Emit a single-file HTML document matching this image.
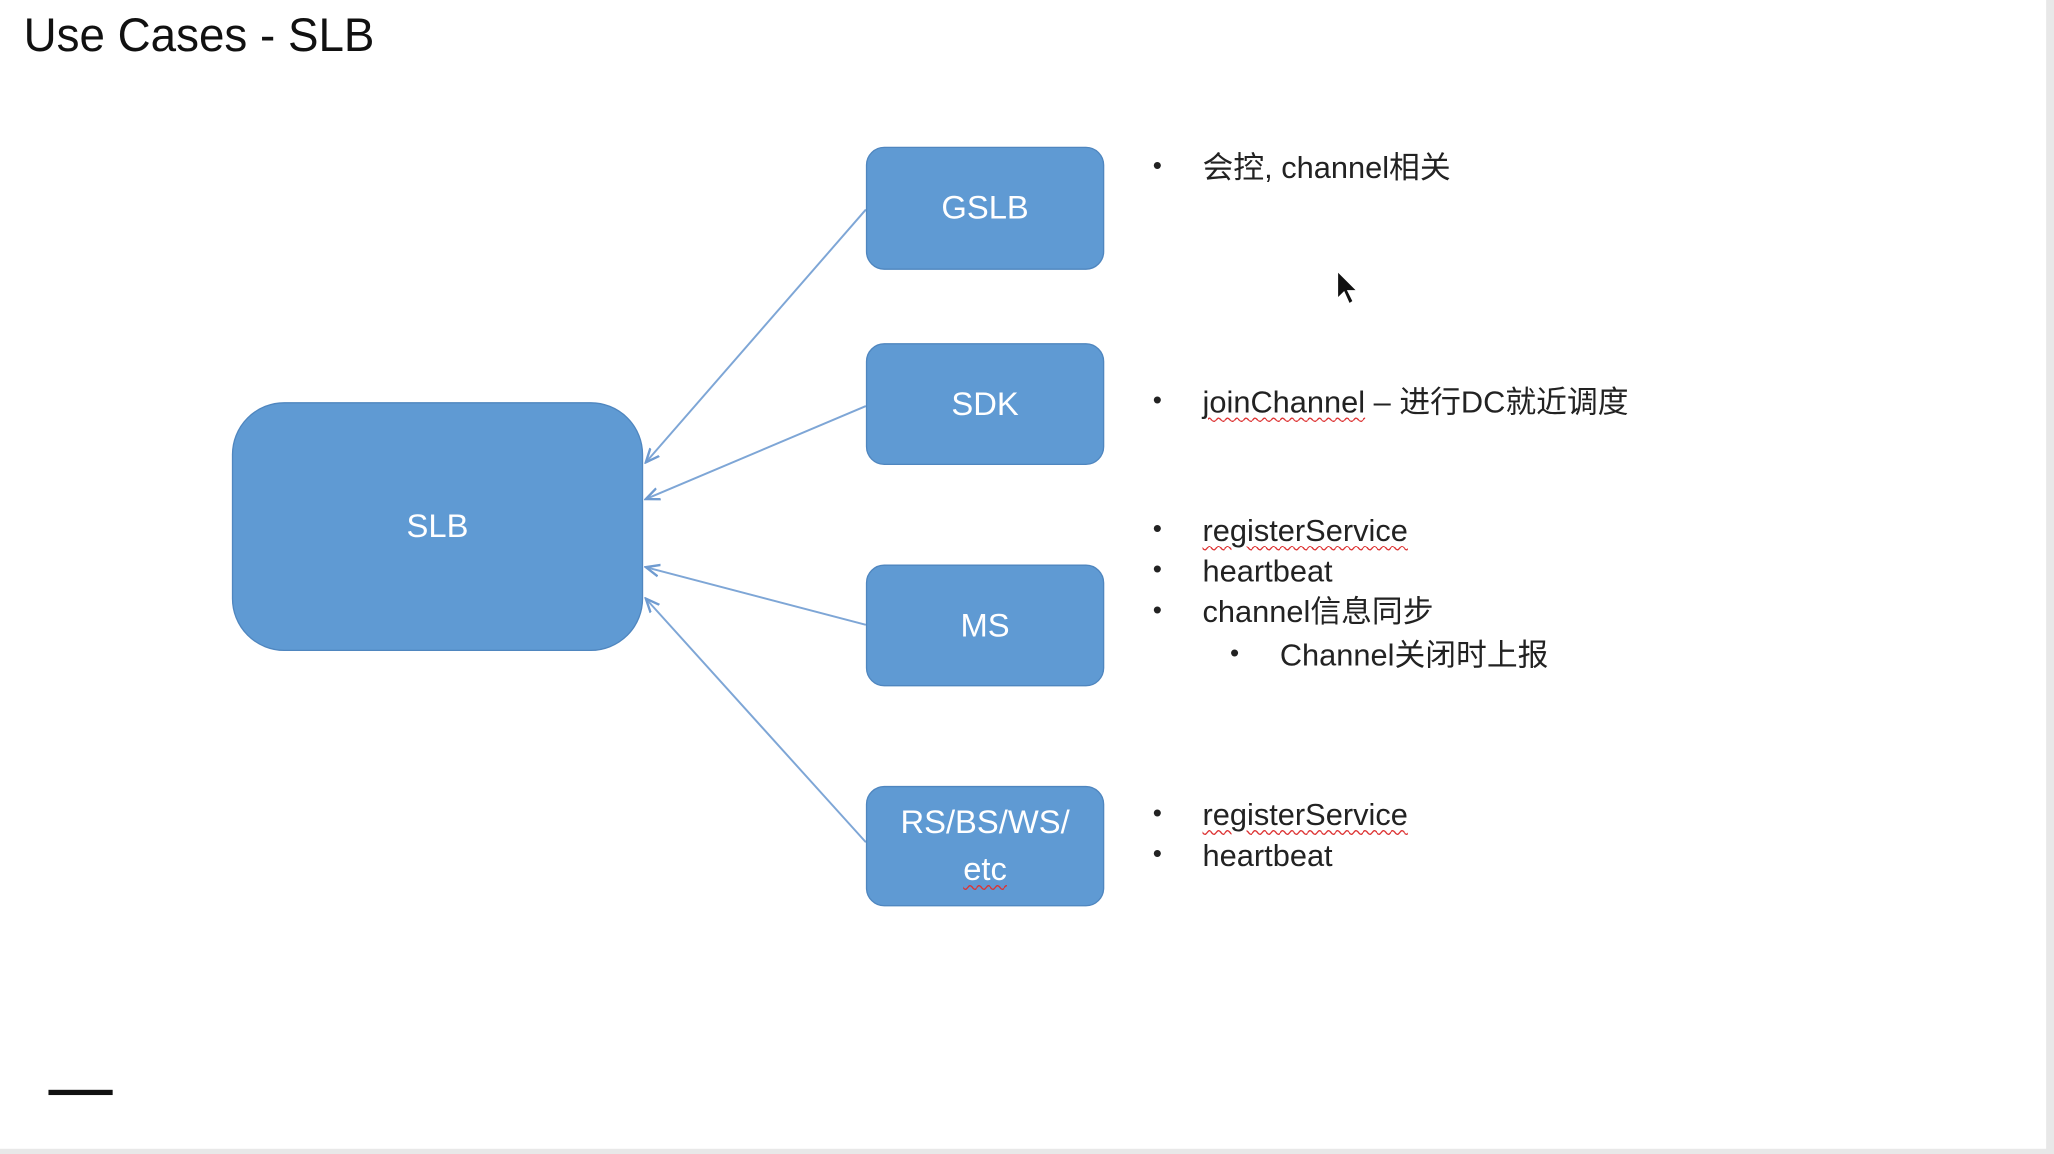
<!DOCTYPE html>
<html><head><meta charset="utf-8"><style>
html,body{margin:0;padding:0;background:#fff;width:2054px;height:1154px;overflow:hidden}
#s{position:absolute;left:0;top:0;width:1568px;height:881px;transform:scale(1.30995,1.30987);transform-origin:0 0;font-family:"Liberation Sans","Noto Sans CJK SC",sans-serif;color:#222}
.b{position:absolute;background:#5f9ad3;border:1.5px solid #4f86bf;box-sizing:border-box;color:#fff;display:flex;align-items:center;justify-content:center;text-align:center;font-size:25px;line-height:36px}
.t{position:absolute;font-size:23.5px;white-space:nowrap;line-height:30px}
.d{position:absolute;font-size:20px;line-height:30px}
u{text-decoration:underline wavy #d33;text-decoration-thickness:1px;text-underline-offset:3px}
</style></head><body><div id="s">
<div style="position:absolute;left:1562px;top:0;width:6px;height:881px;background:#e8e8e8"></div>
<div style="position:absolute;left:0;top:877px;width:1568px;height:4px;background:#e8e8e8"></div>
<div style="position:absolute;left:18px;top:6px;font-size:36px;color:#111;transform:scaleX(0.97);transform-origin:0 0">Use Cases - SLB</div>
<svg style="position:absolute;left:0;top:0" width="1568" height="881">
<defs><marker id="a" markerWidth="8" markerHeight="8" refX="7" refY="4" orient="auto"><path d="M0,1 L7,4 L0,7" fill="none" stroke="#6f9bd0" stroke-width="1.2"/></marker></defs>
<g stroke="#7ea6d6" stroke-width="1.5" fill="none" marker-end="url(#a)">
<line x1="661" y1="160" x2="493" y2="353"/>
<line x1="661" y1="310" x2="493" y2="381"/>
<line x1="661" y1="477" x2="493" y2="433"/>
<line x1="661" y1="643" x2="493" y2="457"/>
</g>
<path d="M1021,207 L1021,228 L1026,223 L1030,232 L1033,230 L1029,222 L1036,222 Z" fill="#111" stroke="#fff" stroke-width="1"/>
</svg>
<div class="b" style="left:177px;top:307px;width:314px;height:190px;border-radius:40px">SLB</div>
<div class="b" style="left:661px;top:112px;width:182px;height:94px;border-radius:14px">GSLB</div>
<div class="b" style="left:661px;top:262px;width:182px;height:93px;border-radius:14px">SDK</div>
<div class="b" style="left:661px;top:431px;width:182px;height:93px;border-radius:14px">MS</div>
<div class="b" style="left:661px;top:600px;width:182px;height:92px;border-radius:14px"><span>RS/BS/WS/<br><u>etc</u></span></div>
<div class="d" style="left:880px;top:112px">•</div><div class="t" style="left:918px;top:113px">会控, channel相关</div>
<div class="d" style="left:880px;top:291px">•</div><div class="t" style="left:918px;top:292px"><u>joinChannel</u> – 进行DC就近调度</div>
<div class="d" style="left:880px;top:389px">•</div><div class="t" style="left:918px;top:390px"><u>registerService</u></div>
<div class="d" style="left:880px;top:420px">•</div><div class="t" style="left:918px;top:421px">heartbeat</div>
<div class="d" style="left:880px;top:451px">•</div><div class="t" style="left:918px;top:452px">channel信息同步</div>
<div class="d" style="left:939px;top:484px">•</div><div class="t" style="left:977px;top:485px">Channel关闭时上报</div>
<div class="d" style="left:880px;top:606px">•</div><div class="t" style="left:918px;top:607px"><u>registerService</u></div>
<div class="d" style="left:880px;top:637px">•</div><div class="t" style="left:918px;top:638px">heartbeat</div>
<div style="position:absolute;left:37px;top:832px;width:49px;height:4px;background:#111"></div>
</div></body></html>
